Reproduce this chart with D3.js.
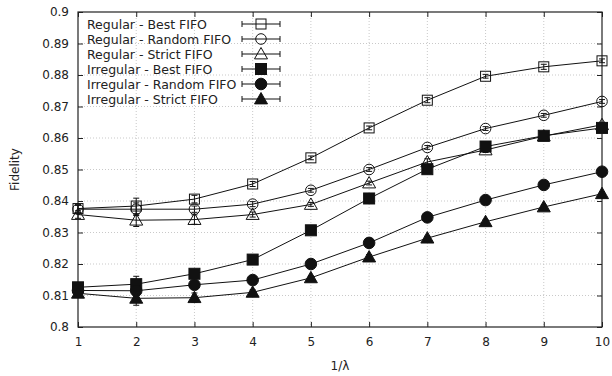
<!DOCTYPE html>
<html>
<head>
<meta charset="utf-8">
<script src="https://cdn.jsdelivr.net/npm/d3@7"></script>
<style>
  body { margin: 0; background: #fff; }
  text { font-family: "DejaVu Sans", sans-serif; fill: #222; }
</style>
</head>
<body>
<div id="chart"></div>
<script>
var svgWidth = 612;
var svgHeight = 376;

var margin = { top: 12, right: 10, bottom: 49, left: 78 };
var width = 602 - margin.left;
var height = 327 - margin.top;

// data
var xValues = [1, 2, 3, 4, 5, 6, 7, 8, 9, 10];
var yTicks = [0.8, 0.81, 0.82, 0.83, 0.84, 0.85, 0.86, 0.87, 0.88, 0.89, 0.9];

var seriesNames = [
    "Regular - Best FIFO",
    "Regular - Random FIFO",
    "Regular - Strict FIFO",
    "Irregular - Best FIFO",
    "Irregular - Random FIFO",
    "Irregular - Strict FIFO"
];

var regBest    = [0.8376, 0.8384, 0.8406, 0.8454, 0.8537, 0.8632, 0.8720, 0.8796, 0.8826, 0.8845];
var regRandom  = [0.8374, 0.8374, 0.8374, 0.8390, 0.8434, 0.8500, 0.8570, 0.8630, 0.8672, 0.8716];
var regStrict  = [0.8357, 0.8339, 0.8341, 0.8357, 0.8389, 0.8457, 0.8524, 0.8562, 0.8606, 0.8642];
var irrBest    = [0.8126, 0.8136, 0.8169, 0.8214, 0.8307, 0.8408, 0.8501, 0.8573, 0.8607, 0.8632];
var irrRandom  = [0.8116, 0.8115, 0.8134, 0.8149, 0.8200, 0.8267, 0.8348, 0.8403, 0.8451, 0.8493];
var irrStrict  = [0.8107, 0.8091, 0.8093, 0.8110, 0.8156, 0.8222, 0.8282, 0.8334, 0.8381, 0.8423];

var regBestErr   = [0.0012, 0.0025, 0.0012, 0.0008, 0.0006, 0.0006, 0.0008, 0.0006, 0.0008, 0.0006];
var regRandomErr = [0.0012, 0.0020, 0.0010, 0.0008, 0.0006, 0.0006, 0.0006, 0.0006, 0.0006, 0.0006];
var regStrictErr = [0.0012, 0.0020, 0.0015, 0.0008, 0.0006, 0.0006, 0.0010, 0.0008, 0.0008, 0.0008];
var irrBestErr   = [0.0015, 0.0025, 0.0012, 0.0008, 0.0006, 0.0006, 0.0008, 0.0006, 0.0006, 0.0006];
var irrRandomErr = [0.0012, 0.0015, 0.0012, 0.0008, 0.0006, 0.0006, 0.0006, 0.0006, 0.0006, 0.0006];
var irrStrictErr = [0.0012, 0.0022, 0.0015, 0.0008, 0.0006, 0.0008, 0.0006, 0.0006, 0.0006, 0.0006];

var seriesValues = [regBest, regRandom, regStrict, irrBest, irrRandom, irrStrict];
var seriesErrors = [regBestErr, regRandomErr, regStrictErr, irrBestErr, irrRandomErr, irrStrictErr];

// marker shape / fill per series
var markerShapes = ["square", "circle", "triangle", "square", "circle", "triangle"];
var markerFilled = [false, false, false, true, true, true];

var svg = d3.select("#chart")
    .append("svg")
    .attr("width", svgWidth)
    .attr("height", svgHeight);

var chartGroup = svg.append("g")
    .attr("transform", `translate(${margin.left}, ${margin.top})`);

var xScale = d3.scaleLinear().domain([1, 10]).range([0, width]);
var yScale = d3.scaleLinear().domain([0.8, 0.9]).range([height, 0]);

// grid
chartGroup.append("g")
    .selectAll("line")
    .data(xValues.slice(1, -1))
    .enter()
    .append("line")
    .attr("x1", d => xScale(d)).attr("x2", d => xScale(d))
    .attr("y1", 0).attr("y2", height)
    .attr("stroke", "#bbb")
    .attr("stroke-width", 0.8)
    .attr("stroke-dasharray", "1,2");

chartGroup.append("g")
    .selectAll("line")
    .data(yTicks.slice(1, -1))
    .enter()
    .append("line")
    .attr("x1", 0).attr("x2", width)
    .attr("y1", d => yScale(d)).attr("y2", d => yScale(d))
    .attr("stroke", "#bbb")
    .attr("stroke-width", 0.8)
    .attr("stroke-dasharray", "1,2");

// axes (inner ticks on all sides)
var bottomAxis = d3.axisBottom(xScale).tickValues(xValues).tickSize(-5).tickPadding(10).tickFormat(d3.format("d"));
var topAxis = d3.axisTop(xScale).tickValues(xValues).tickSize(-5).tickFormat("");
var leftAxis = d3.axisLeft(yScale).tickValues(yTicks).tickSize(-5).tickPadding(9).tickFormat(d => d3.format("")(+d.toFixed(2)));
var rightAxis = d3.axisRight(yScale).tickValues(yTicks).tickSize(-5).tickFormat("");

function styleAxis(g) {
    g.select(".domain").remove();
    g.selectAll("line").attr("stroke", "#222");
    g.selectAll("text").style("font-size", "12px").style("font-family", "DejaVu Sans").attr("fill", "#222");
}

chartGroup.append("g").attr("transform", `translate(0, ${height})`).call(bottomAxis).call(styleAxis);
chartGroup.append("g").call(topAxis).call(styleAxis);
chartGroup.append("g").call(leftAxis).call(styleAxis);
chartGroup.append("g").attr("transform", `translate(${width}, 0)`).call(rightAxis).call(styleAxis);

chartGroup.append("rect")
    .attr("width", width)
    .attr("height", height)
    .attr("fill", "none")
    .attr("stroke", "#222")
    .attr("stroke-width", 1.2);

// axis labels
svg.append("text")
    .attr("x", margin.left + width / 2)
    .attr("y", 370)
    .attr("text-anchor", "middle")
    .style("font-size", "12px")
    .text("1/λ");

svg.append("text")
    .attr("transform", `translate(19, ${margin.top + height / 2}) rotate(-90)`)
    .attr("text-anchor", "middle")
    .style("font-size", "12px")
    .text("Fidelity");

// marker drawing
function drawMarker(g, shape, filled, cx, cy) {
    var fill = filled ? "#111" : "none";
    if (shape === "square") {
        var s = filled ? 11 : 10;
        g.append("rect")
            .attr("x", cx - s / 2).attr("y", cy - s / 2)
            .attr("width", s).attr("height", s)
            .attr("fill", fill).attr("stroke", "#111").attr("stroke-width", 1);
    } else if (shape === "circle") {
        g.append("circle")
            .attr("cx", cx).attr("cy", cy).attr("r", filled ? 5.8 : 5.3)
            .attr("fill", fill).attr("stroke", "#111").attr("stroke-width", 1);
    } else {
        var h = 6.5;
        g.append("path")
            .attr("d", `M${cx},${cy - h} L${cx + h},${cy + h * 0.75} L${cx - h},${cy + h * 0.75} Z`)
            .attr("fill", fill).attr("stroke", "#111").attr("stroke-width", 1);
    }
}

var line = d3.line()
    .x((d, i) => xScale(xValues[i]))
    .y(d => yScale(d));

seriesValues.forEach(function (vals, si) {
    var g = chartGroup.append("g");
    g.append("path")
        .datum(vals)
        .attr("d", line)
        .attr("fill", "none")
        .attr("stroke", "#111")
        .attr("stroke-width", 1);

    vals.forEach(function (v, i) {
        var cx = xScale(xValues[i]);
        var e = seriesErrors[si][i];
        var y1 = yScale(v - e), y2 = yScale(v + e);
        g.append("line").attr("x1", cx).attr("x2", cx).attr("y1", y1).attr("y2", y2)
            .attr("stroke", "#111").attr("stroke-width", 1);
        g.append("line").attr("x1", cx - 3).attr("x2", cx + 3).attr("y1", y1).attr("y2", y1)
            .attr("stroke", "#111").attr("stroke-width", 1);
        g.append("line").attr("x1", cx - 3).attr("x2", cx + 3).attr("y1", y2).attr("y2", y2)
            .attr("stroke", "#111").attr("stroke-width", 1);
        drawMarker(g, markerShapes[si], markerFilled[si], cx, yScale(v));
    });
});

// legend
var legend = svg.append("g");
seriesNames.forEach(function (name, i) {
    var ly = 24 + i * 15;
    legend.append("text")
        .attr("x", 87)
        .attr("y", ly + 4.5)
        .style("font-size", "12.5px")
        .text(name);
    legend.append("line").attr("x1", 242).attr("x2", 280).attr("y1", ly).attr("y2", ly)
        .attr("stroke", "#111").attr("stroke-width", 1);
    legend.append("line").attr("x1", 242).attr("x2", 242).attr("y1", ly - 3).attr("y2", ly + 3)
        .attr("stroke", "#111").attr("stroke-width", 1);
    legend.append("line").attr("x1", 280).attr("x2", 280).attr("y1", ly - 3).attr("y2", ly + 3)
        .attr("stroke", "#111").attr("stroke-width", 1);
    drawMarker(legend, markerShapes[i], markerFilled[i], 261, ly);
});
</script>
</body>
</html>
